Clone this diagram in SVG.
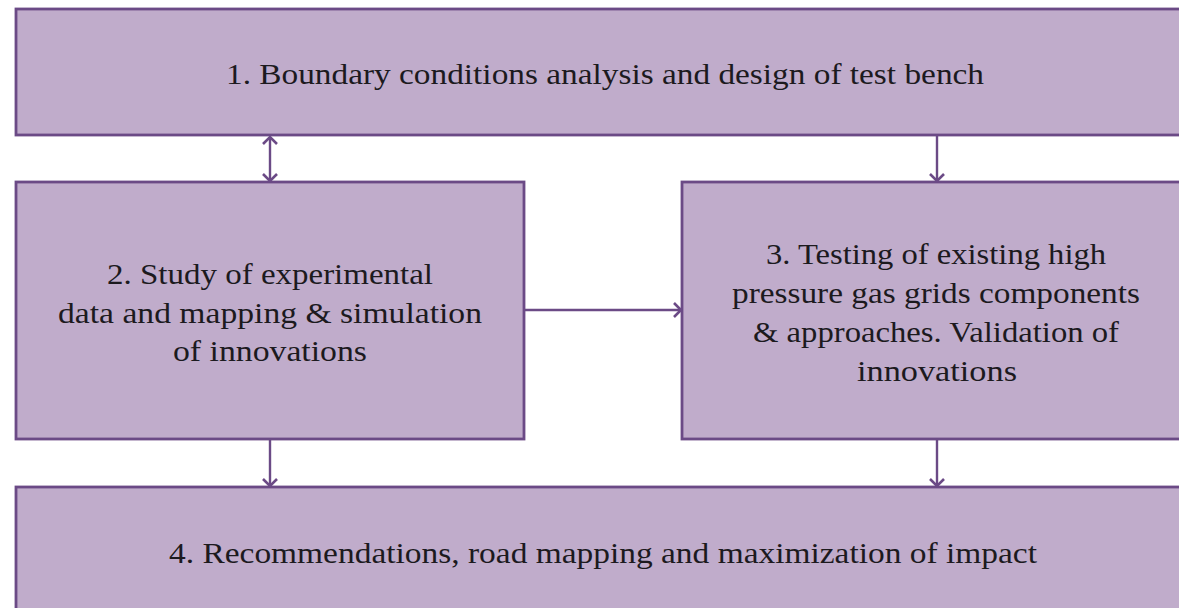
<svg xmlns="http://www.w3.org/2000/svg" width="1179" height="608" viewBox="0 0 1179 608">
  <style>
    .box { fill: #c0accb; stroke: #6b4a86; stroke-width: 2.8; }
    .lbl { font-family: "Liberation Serif", "DejaVu Serif", serif; font-size: 30px; fill: #1c1a1e; text-anchor: middle; }
    .conn { stroke: #6b4a86; stroke-width: 2.4; fill: none; }
  </style>
  <defs>
    <marker id="chev" markerUnits="userSpaceOnUse" viewBox="0 0 16 16" refX="14" refY="8" markerWidth="16" markerHeight="16" orient="auto-start-reverse">
      <path d="M7,1 L14,8 L7,15" fill="none" stroke="#6b4a86" stroke-width="2.6"/>
    </marker>
  </defs>
  <rect width="1179" height="608" fill="#ffffff"/>
  <g id="node1">
    <rect class="box" x="16" y="9" width="1180" height="126"/>
    <text class="lbl" x="605" y="84" textLength="758" lengthAdjust="spacingAndGlyphs">1. Boundary conditions analysis and design of test bench</text>
  </g>
  <g id="node2">
    <rect class="box" x="16" y="182" width="508" height="257"/>
    <text class="lbl" x="270" y="284" textLength="326" lengthAdjust="spacingAndGlyphs">2. Study of experimental</text>
    <text class="lbl" x="270" y="323" textLength="424" lengthAdjust="spacingAndGlyphs">data and mapping &amp; simulation</text>
    <text class="lbl" x="270" y="361" textLength="194" lengthAdjust="spacingAndGlyphs">of innovations</text>
  </g>
  <g id="node3">
    <rect class="box" x="682" y="182" width="514" height="257"/>
    <text class="lbl" x="936" y="264" textLength="340" lengthAdjust="spacingAndGlyphs">3. Testing of existing high</text>
    <text class="lbl" x="936" y="303" textLength="408" lengthAdjust="spacingAndGlyphs">pressure gas grids components</text>
    <text class="lbl" x="936" y="342" textLength="366" lengthAdjust="spacingAndGlyphs">&amp; approaches. Validation of</text>
    <text class="lbl" x="937" y="381" textLength="160" lengthAdjust="spacingAndGlyphs">innovations</text>
  </g>
  <g id="node4">
    <rect class="box" x="16" y="487" width="1180" height="140"/>
    <text class="lbl" x="603" y="563" textLength="868" lengthAdjust="spacingAndGlyphs">4. Recommendations, road mapping and maximization of impact</text>
  </g>
  <g id="connectors">
    <line class="conn" x1="270" y1="137" x2="270" y2="181" marker-start="url(#chev)" marker-end="url(#chev)"/>
    <line class="conn" x1="937" y1="136" x2="937" y2="181" marker-end="url(#chev)"/>
    <line class="conn" x1="525" y1="310" x2="681" y2="310" marker-end="url(#chev)"/>
    <line class="conn" x1="270" y1="440" x2="270" y2="486" marker-end="url(#chev)"/>
    <line class="conn" x1="937" y1="440" x2="937" y2="486" marker-end="url(#chev)"/>
  </g>
</svg>
